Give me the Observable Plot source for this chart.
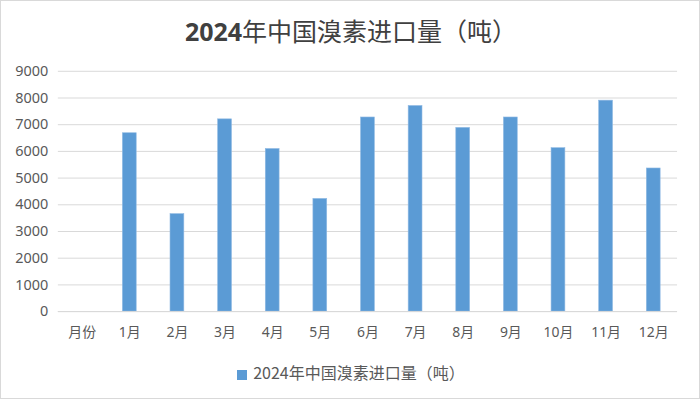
<!DOCTYPE html>
<html>
<head>
<meta charset="utf-8">
<script src="https://cdn.jsdelivr.net/npm/d3@7"></script>
<script src="https://cdn.jsdelivr.net/npm/@observablehq/plot@0.6"></script>
<style>
  html, body { margin: 0; padding: 0; background: #fff; }
  #wrap { position: relative; width: 700px; height: 399px; box-sizing: border-box; border: 1px solid #d9d9d9; overflow: hidden; font-family: "Noto Sans", "Noto Sans CJK SC", sans-serif; }
  #title { position: absolute; left: 0; width: 700px; top: 11px; text-align: center; font-size: 25px; color: #404040; line-height: 36px; font-family: "Noto Sans CJK SC", sans-serif; }
  #title b { font-family: "Noto Sans", sans-serif; font-weight: 700; }
  #chart { position: absolute; left: 0; top: 0; }
  #legend { position: absolute; left: 0; width: 700px; top: 360px; text-align: center; font-size: 16px; color: #595959; line-height: 22px; font-family: "Noto Sans CJK SC", sans-serif; }
  #legend .sw { display: inline-block; width: 10px; height: 10px; background: #5b9bd5; margin-right: 6px; vertical-align: -1px; }
</style>
</head>
<body>
<div id="wrap">
  <div id="chart"></div>
  <div id="title"><b>2024</b>年中国溴素进口量（吨）</div>
  <div id="legend"><span class="sw"></span><span id="legtext"></span></div>
</div>
<script>
const seriesName = "2024年中国溴素进口量（吨）";
const categories = ["月份", "1月", "2月", "3月", "4月", "5月", "6月", "7月", "8月", "9月", "10月", "11月", "12月"];
const values = [null, 6680, 3650, 7200, 6090, 4220, 7270, 7700, 6880, 7270, 6120, 7900, 5360];
const yTicks = [0, 1000, 2000, 3000, 4000, 5000, 6000, 7000, 8000, 9000];

document.getElementById("legtext").textContent = seriesName;

const data = categories.map((c, i) => ({ month: c, value: values[i] })).filter(d => d.value != null);

const chart = Plot.plot({
  width: 700,
  height: 345,
  marginTop: 70,
  marginBottom: 34,
  marginLeft: 57,
  marginRight: 22,
  style: { fontFamily: '"Noto Sans", "Noto Sans CJK SC", sans-serif', fontSize: "14px", color: "#595959", background: "transparent" },
  x: { domain: categories, paddingInner: 0.71, paddingOuter: 0.355, round: false, label: null },
  y: { domain: [0, 9000], ticks: yTicks, label: null },
  marks: [
    Plot.gridY(yTicks, { stroke: "#d9d9d9", strokeOpacity: 1, strokeWidth: 1 }),
    Plot.barY(data, { x: "month", y: "value", fill: "#5b9bd5", stroke: "#8fb9e3", strokeWidth: 0.6 }),
    Plot.ruleY([0], { stroke: "#d9d9d9", strokeWidth: 1 }),
    Plot.axisY(yTicks, { tickSize: 0, tickPadding: 10, fontSize: 14.5, label: null, tickFormat: d => String(d) }),
    Plot.axisX(categories, { tickSize: 0, tickPadding: 16, fontSize: 14, label: null })
  ]
});
document.getElementById("chart").appendChild(chart);
</script>
</body>
</html>
